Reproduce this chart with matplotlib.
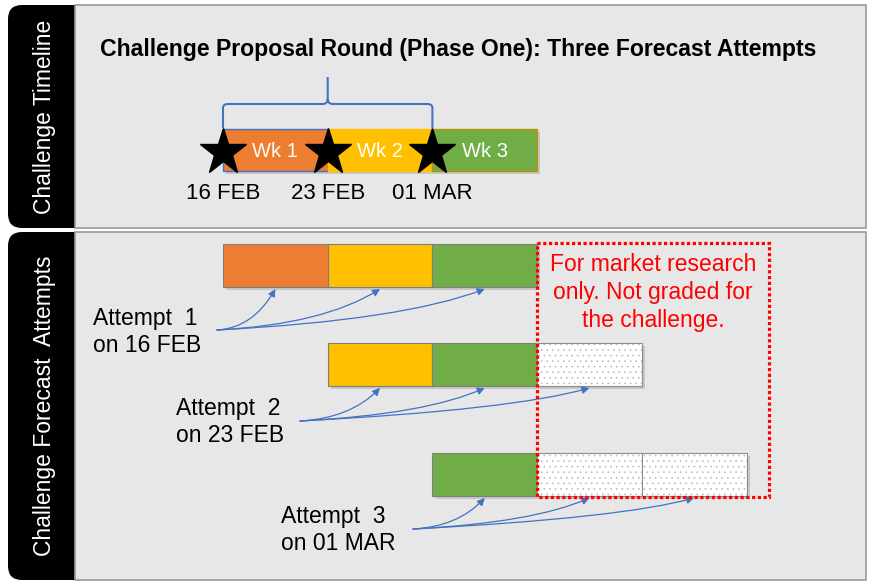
import numpy as np
import matplotlib
matplotlib.use('Agg')
import matplotlib.pyplot as plt
from matplotlib.patches import Rectangle, FancyBboxPatch, PathPatch
from matplotlib.path import Path

plt.rcParams['font.family'] = ['Liberation Sans', 'DejaVu Sans']
plt.rcParams['hatch.linewidth'] = 0.5

# Chart content
title = 'Challenge Proposal Round (Phase One): Three Forecast Attempts'
panel_labels = ['Challenge Timeline', 'Challenge Forecast  Attempts']
weeks = ['Wk 1', 'Wk 2', 'Wk 3']
week_colors = ['#ed7d31', '#ffc000', '#70ad47']
dates = ['16 FEB', '23 FEB', '01 MAR']
attempts = ['Attempt  1\non 16 FEB', 'Attempt  2\non 23 FEB', 'Attempt  3\non 01 MAR']
attempt_start = [0, 1, 2]      # week index where each attempt's forecast begins
forecast_weeks = 3             # each attempt forecasts three weeks
graded_weeks = 3               # only weeks 1-3 are graded
note = 'For market research\nonly. Not graded for\nthe challenge.'

# Layout (pixels)
X0, W = 223, 104.7             # pixel x of week 0 and pixels per week
row_top = [244, 343, 453]
bar_h = 43
label_pos = [(93, 325), (176, 415), (281, 523)]
arrow_from = [(217, 330), (300, 421), (413, 529)]
blue = '#4472c4'


def px(x):
    return (x - X0) / W


def lines(ax, x, y, s, step=27.5, **kw):
    for j, line in enumerate(s.split('\n')):
        ax.text(x, y + j * step, line, va='baseline', **kw)


fig = plt.figure(figsize=(8.69, 5.82), dpi=100)

# background panels in pixel coordinates
bg = fig.add_axes([0, 0, 1, 1], label='bg')
bg.set_xlim(0, 869)
bg.set_ylim(582, 0)
bg.axis('off')
for (y0, y1), lab in zip([(5, 228), (232, 580)], panel_labels):
    bg.add_patch(FancyBboxPatch((8, y0), 100, y1 - y0,
                                boxstyle='round,pad=0,rounding_size=14',
                                fc='black', ec='none'))
    bg.add_patch(Rectangle((75, y0), 791, y1 - y0, fc='#e7e7e7', ec='#9a9a9a', lw=1.2))
    bg.text(45, (y0 + y1) / 2, lab, rotation=90, color='white', fontsize=16.5,
            ha='center', va='center')
bg.text(100, 56, title, fontsize=16.6, fontweight='bold', va='baseline')

# content axes: x in weeks, y in pixels
ax = fig.add_axes([0, 0, 1, 1], label='main')
ax.patch.set_alpha(0)
ax.set_xlim(px(0), px(869))
ax.set_ylim(582, 0)
ax.axis('off')

# timeline bar
top_y = 150
ax.barh(top_y + 3, len(weeks), left=0.03, height=42, color='#7f7f7f', alpha=0.3, zorder=1)
ax.barh([top_y] * len(weeks), 1, left=np.arange(len(weeks)), height=42,
        color=week_colors, edgecolor=[blue, '#ffc000', '#c09000'], lw=1, zorder=2)
for i, wk in enumerate(weeks):
    ax.text(i + 0.5, 157, wk, color='white', fontsize=14.5, ha='center', va='baseline', zorder=3)
ax.plot(np.arange(len(dates)), [152] * len(dates), ls='none', marker='*', ms=35,
        color='black', zorder=4)
for i, d in enumerate(dates):
    ax.text(i, 199, d, fontsize=16, ha='center', va='baseline')

# curly brace over the attempt dates
L, M, R = 0, 1, len(dates) - 1
verts = [(L, 128), (L, 108), (L, 104), (L + 0.05, 104), (M - 0.05, 104), (M, 104), (M, 99), (M, 77),
         (M, 99), (M, 104), (M + 0.05, 104), (R - 0.05, 104), (R, 104), (R, 108), (R, 128)]
codes = [Path.MOVETO, Path.LINETO, Path.CURVE3, Path.CURVE3, Path.LINETO, Path.CURVE3, Path.CURVE3,
         Path.LINETO, Path.MOVETO, Path.CURVE3, Path.CURVE3, Path.LINETO, Path.CURVE3, Path.CURVE3,
         Path.LINETO]
ax.add_patch(PathPatch(Path(verts, codes), fc='none', ec=blue, lw=1.5, zorder=2))

# forecast attempts
for a, start in enumerate(attempt_start):
    yc = row_top[a] + bar_h / 2
    ax.barh(yc + 3, forecast_weeks, left=start + 0.03, height=bar_h, color='#7f7f7f',
            alpha=0.3, zorder=1)
    for k in range(forecast_weeks):
        wk = start + k
        if wk < graded_weeks:
            ax.barh(yc, 1, left=wk, height=bar_h, color=week_colors[wk],
                    edgecolor='#7f7f7f', lw=0.8, zorder=2)
        else:
            ax.barh(yc, 1, left=wk, height=bar_h, color='white', edgecolor='#bdbdbd',
                    hatch='...', lw=0, zorder=2)
            ax.barh(yc, 1, left=wk, height=bar_h, fill=False, edgecolor='#8c8c8c',
                    lw=0.8, zorder=2)
    lines(ax, px(label_pos[a][0]), label_pos[a][1], attempts[a], fontsize=16.5)
    sx, sy = arrow_from[a]
    for k in range(forecast_weeks):
        tw = start + k + 0.5
        ty = row_top[a] + bar_h + 2
        dx = X0 + W * tw - sx
        dy = sy - ty
        angB = np.degrees(np.arctan2(dy, 0.4 * dx))
        ax.annotate('', xy=(tw, ty), xytext=(px(sx), sy),
                    arrowprops=dict(arrowstyle='-|>', color=blue, lw=0.9, mutation_scale=11,
                                    shrinkA=0, shrinkB=0,
                                    connectionstyle=f'angle3,angleA=3,angleB={angB:.1f}'),
                    zorder=3)

# not-graded region
ax.add_patch(Rectangle((graded_weeks, 243), px(769) - graded_weeks, 254, fill=False,
                       ec='red', lw=2.3, ls=(0, (1, 0.8)), zorder=5))
lines(ax, (graded_weeks + px(769)) / 2, 271, note, step=28, fontsize=16.5, color='red',
      ha='center')

fig.savefig('out.png', dpi=100)
